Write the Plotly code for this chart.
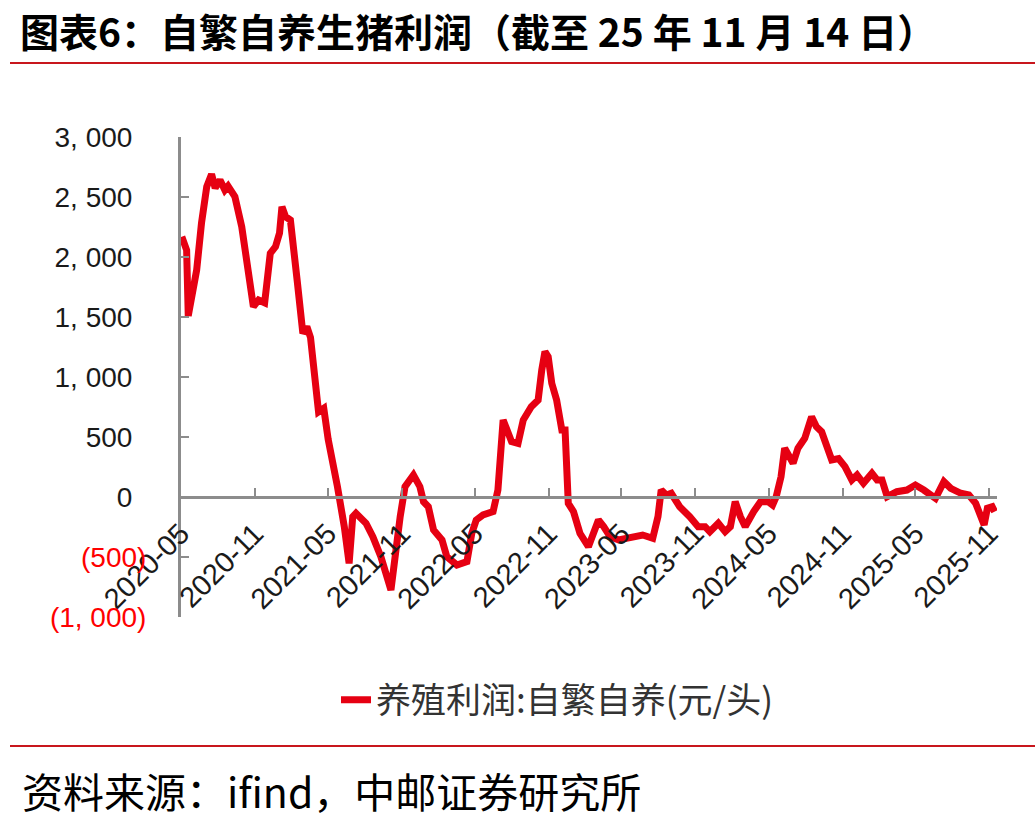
import plotly.graph_objects as go

# ---- data ----
dates = [
    "2020-05-03", "2020-05-15", "2020-05-19", "2020-05-23", "2020-06-09", "2020-06-21",
    "2020-07-04", "2020-07-16", "2020-07-25", "2020-08-06", "2020-08-18", "2020-08-26",
    "2020-09-12", "2020-09-29", "2020-10-11", "2020-10-28", "2020-11-10", "2020-11-25",
    "2020-12-09", "2020-12-22", "2021-01-01", "2021-01-07", "2021-01-16", "2021-01-28",
    "2021-02-14", "2021-02-28", "2021-03-10", "2021-03-19", "2021-04-08", "2021-04-21",
    "2021-05-02", "2021-05-14", "2021-05-25", "2021-06-11", "2021-06-23", "2021-07-02",
    "2021-07-10", "2021-08-04", "2021-08-21", "2021-09-10", "2021-10-05", "2021-10-28",
    "2021-11-09", "2021-11-30", "2021-12-16", "2021-12-25", "2022-01-06", "2022-01-19",
    "2022-02-09", "2022-02-21", "2022-03-18", "2022-04-12", "2022-04-24", "2022-05-05",
    "2022-05-22", "2022-06-16", "2022-06-28", "2022-07-11", "2022-07-19", "2022-08-01",
    "2022-08-17", "2022-08-30", "2022-09-19", "2022-10-06", "2022-10-15", "2022-10-23",
    "2022-10-31", "2022-11-09", "2022-11-21", "2022-12-04", "2022-12-12", "2022-12-20",
    "2023-01-02", "2023-01-18", "2023-02-08", "2023-03-05", "2023-03-18", "2023-04-03",
    "2023-04-24", "2023-05-21", "2023-06-23", "2023-07-18", "2023-07-31", "2023-08-08",
    "2023-08-21", "2023-09-02", "2023-09-23", "2023-10-18", "2023-11-08", "2023-11-25",
    "2023-12-07", "2023-12-28", "2024-01-14", "2024-01-27", "2024-02-08", "2024-02-21",
    "2024-03-04", "2024-03-25", "2024-04-11", "2024-04-30", "2024-05-11", "2024-05-20",
    "2024-06-01", "2024-06-10", "2024-06-22", "2024-07-01", "2024-07-13", "2024-07-30",
    "2024-08-16", "2024-08-28", "2024-09-10", "2024-09-22", "2024-10-05", "2024-10-22",
    "2024-11-07", "2024-11-24", "2024-12-07", "2024-12-23", "2025-01-13", "2025-01-26",
    "2025-02-07", "2025-02-20", "2025-03-16", "2025-04-10", "2025-05-01", "2025-05-22",
    "2025-06-20", "2025-07-11", "2025-07-28", "2025-08-22", "2025-09-11", "2025-09-28",
    "2025-10-10", "2025-10-19", "2025-10-27", "2025-11-08", "2025-11-14",
]
profit = [
    2170, 2058, 1510, 1586, 1892, 2283,
    2586, 2690, 2575, 2642, 2558, 2590,
    2503, 2253, 1975, 1586, 1642, 1619,
    2031, 2086, 2200, 2419, 2336, 2308,
    1800, 1364, 1419, 1330, 710, 739,
    480, 290, 86, -247, -553, -164,
    -136, -219, -331, -497, -775, -164,
    86, 183, 86, -39, -81, -275,
    -358, -497, -567, -539, -303, -192,
    -150, -122, 58, 642, 586, 461,
    447, 642, 753, 808, 1058, 1211,
    1169, 947, 808, 558, 558, -53,
    -122, -303, -414, -192, -247, -331,
    -358, -344, -317, -344, -164, 58,
    17, 31, -81, -164, -247, -247,
    -289, -219, -289, -247, -39, -164,
    -247, -122, -39, -39, -67, 3,
    169, 406, 322, 281, 406, 489,
    669, 586, 544, 440, 308, 320,
    253, 142, 183, 114, 197, 142,
    142, 3, 44, 58, 100, 58,
    -11, 128, 72, 31, 17, -53,
    -164, -233, -94, -81, -122,
]
series_name = "养殖利润:自繁自养(元/头)"

x_tick_dates = ["2020-05-01", "2020-11-01", "2021-05-01", "2021-11-01", "2022-05-01",
                "2022-11-01", "2023-05-01", "2023-11-01", "2024-05-01", "2024-11-01",
                "2025-05-01", "2025-11-01"]
x_tick_labels = ["2020-05", "2020-11", "2021-05", "2021-11", "2022-05", "2022-11",
                 "2023-05", "2023-11", "2024-05", "2024-11", "2025-05", "2025-11"]

y_tick_vals = [3000, 2500, 2000, 1500, 1000, 500, 0, -500, -1000]
y_tick_labels = ["3, 000", "2, 500", "2, 000", "1, 500", "1, 000", "500", "0",
                 "(500)", "(1, 000)"]

title_text = "图表6：自繁自养生猪利润（截至 25 年 11 月 14 日）"
source_text = "资料来源：ifind，中邮证券研究所"

# ---- styling ----
RED = "#E60012"
AXIS_GREY = "#8C8C8C"
W, H = 1035, 822
L, R, T, B = 181, 38, 137, 205
pw, ph = W - L - R, H - T - B


def px_x(x):
    return (x - L) / pw


def px_y(y):
    return (H - B - y) / ph


# accounting style: positives keep room for the closing parenthesis
y_ticktext = [
    (f"<span style='color:#FF0000'>{t}</span>" if v < 0 else t + "\u2002")
    for v, t in zip(y_tick_vals, y_tick_labels)
]

fig = go.Figure()
fig.add_trace(go.Scatter(
    x=dates, y=profit, mode="lines", name=series_name,
    line=dict(color=RED, width=7),
))

fig.update_layout(
    width=W, height=H,
    margin=dict(l=L, r=R, t=T, b=B),
    paper_bgcolor="white", plot_bgcolor="white",
    showlegend=True,
    legend=dict(
        orientation="h", x=px_x(336), y=px_y(700), xanchor="left", yanchor="middle",
        font=dict(family="Noto Sans CJK SC", size=35, color="#333333"),
        bgcolor="rgba(0,0,0,0)",
    ),
    xaxis=dict(
        type="date", range=["2020-05-01", "2025-11-20"],
        tickvals=x_tick_dates, ticktext=x_tick_labels, tickangle=-45,
        tickfont=dict(family="Liberation Sans", size=29, color="#1a1a1a"),
        showline=True, linecolor=AXIS_GREY, linewidth=3,
        ticks="inside", ticklen=8, tickwidth=2, tickcolor=AXIS_GREY,
        showgrid=False, zeroline=False,
        anchor="free", position=0.25,
        ticklabelstandoff=6,
    ),
    yaxis=dict(
        range=[-1000, 3000], tickvals=y_tick_vals, ticktext=y_ticktext,
        tickfont=dict(family="Liberation Sans", size=28, color="#1a1a1a"),
        showline=True, linecolor=AXIS_GREY, linewidth=3,
        ticks="inside", ticklen=8, tickwidth=2, tickcolor=AXIS_GREY,
        showgrid=False, zeroline=False,
        ticklabelstandoff=26,
    ),
)

# title, source and separator lines
fig.add_annotation(
    text=f"<b>{title_text}</b>", xref="paper", yref="paper",
    x=px_x(18), y=px_y(30), xanchor="left", yanchor="middle", showarrow=False,
    font=dict(family="Noto Sans CJK SC", size=39, color="#000000"),
)
fig.add_annotation(
    text=source_text, xref="paper", yref="paper",
    x=px_x(20), y=px_y(790), xanchor="left", yanchor="middle", showarrow=False,
    font=dict(family="Noto Sans CJK SC", size=41, color="#000000"),
)
for yy in (63, 746):
    fig.add_shape(type="line", xref="paper", yref="paper",
                  x0=px_x(10), x1=px_x(1035), y0=px_y(yy), y1=px_y(yy),
                  line=dict(color="#C8161D", width=2))

fig.write_html("out.html")
